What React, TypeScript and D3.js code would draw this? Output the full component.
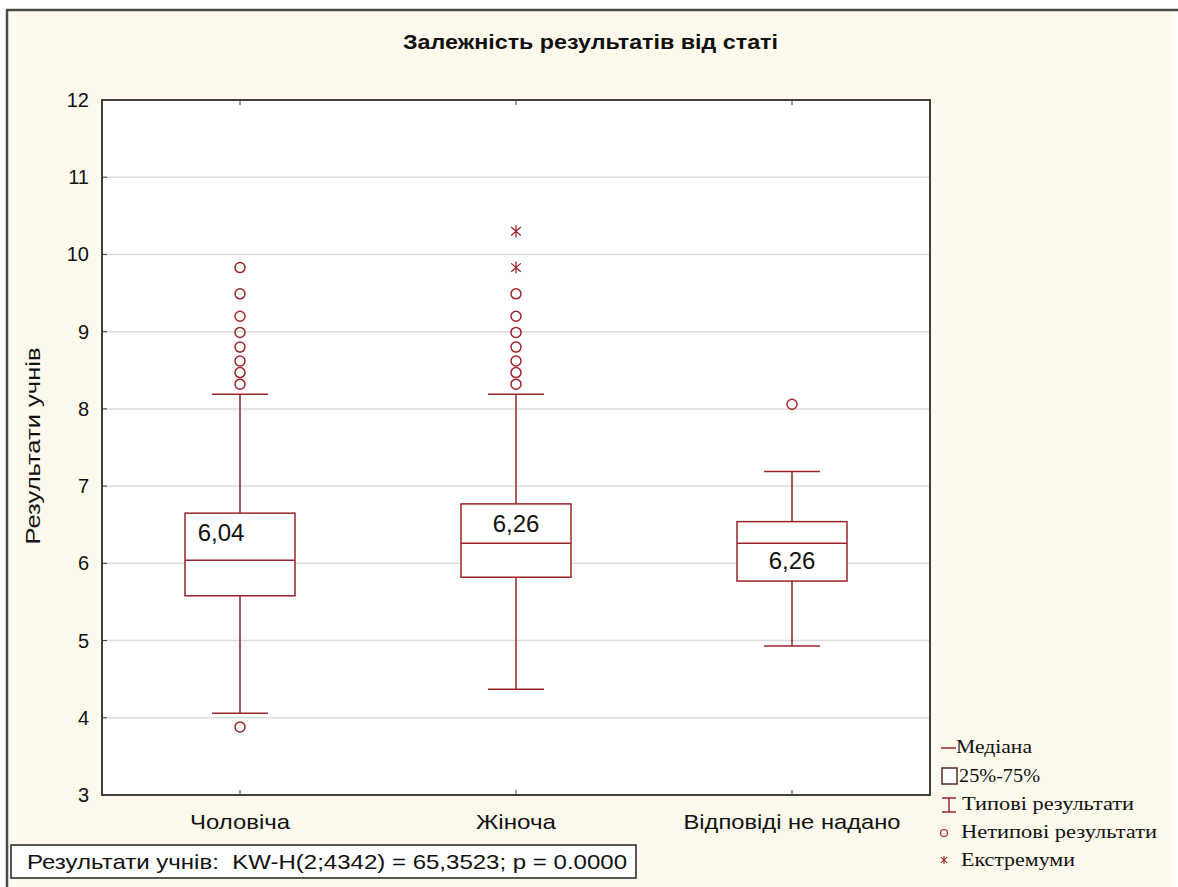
import React from "react";
import * as d3 from "d3";

const categories = ["Чоловіча", "Жіноча", "Відповіді не надано"];
const medians = [6.04, 6.26, 6.26];
const q1 = [5.58, 5.82, 5.77];
const q3 = [6.65, 6.77, 6.54];
const whiskerLow = [4.06, 4.37, 4.93];
const whiskerHigh = [8.19, 8.19, 7.19];
const outliersMale = [9.83, 9.49, 9.2, 8.99, 8.8, 8.62, 8.47, 8.32, 3.88];
const outliersFemale = [9.49, 9.2, 8.99, 8.8, 8.62, 8.47, 8.32];
const outliersNone = [8.06];
const extremesMale: number[] = [];
const extremesFemale = [10.3, 9.83];
const extremesNone: number[] = [];
const yTicks = [3, 4, 5, 6, 7, 8, 9, 10, 11, 12];
const medianLabels = ["6,04", "6,26", "6,26"];

const outliers = [outliersMale, outliersFemale, outliersNone];
const extremes = [extremesMale, extremesFemale, extremesNone];

const legendItems = ["Медіана", "25%-75%", "Типові результати", "Нетипові результати", "Екстремуми"];

const RED = "#9b252b";
const SANS = "'Liberation Sans', Arial, sans-serif";
const SERIF = "'Liberation Serif', 'Times New Roman', serif";

// label placement styles: dx offset from band center, position relative to median
const labelStyle = [
  { dx: -19, dy: -19 },
  { dx: 0, dy: -11 },
  { dx: 0, dy: 26 },
];
const catLabelWidths = [100, 80, 217];
const legendWidths = [76, 81, 172, 196, 114];

export default function App() {
  const W = 1178;
  const H = 887;
  const left = 102;
  const right = 930;
  const top = 100;
  const bottom = 795;

  const y = d3.scaleLinear().domain([3, 12]).range([bottom, top]);
  const x = d3.scaleBand<string>().domain(categories).range([left, right]);
  const boxW = 110;
  const capW = 56;

  const asterisk = (cx: number, cy: number, r: number) =>
    `M${cx},${cy - r}L${cx},${cy + r}M${cx - r * 0.8},${cy - r * 0.7}L${cx + r * 0.8},${cy + r * 0.7}M${cx - r * 0.8},${cy + r * 0.7}L${cx + r * 0.8},${cy - r * 0.7}`;

  return (
    <svg
      width={W}
      height={H}
      style={{ position: "absolute", left: 0, top: 0, display: "block" }}
    >
      <rect x={0} y={0} width={W} height={H} fill="#ffffff" />
      <rect x={7} y={10} width={1165} height={H - 10} fill="#fef9ed" />
      <line x1={7} x2={W} y1={10} y2={10} stroke="#4a4a4a" strokeWidth={2.5} />
      <line x1={7} x2={7} y1={9} y2={H} stroke="#4a4a4a" strokeWidth={2.5} />

      <text
        x={590.5}
        y={49}
        textAnchor="middle"
        fontFamily={SANS}
        fontWeight="bold"
        fontSize={21}
        fill="#111"
        textLength={375}
        lengthAdjust="spacingAndGlyphs"
      >
        Залежність результатів від статі
      </text>

      {/* plot area */}
      <rect x={left} y={top} width={right - left} height={bottom - top} fill="#ffffff" />
      {yTicks.slice(1, -1).map((t) => (
        <line key={"g" + t} x1={left} x2={right} y1={y(t)} y2={y(t)} stroke="#dcdcdc" strokeWidth={1.5} />
      ))}
      {yTicks.map((t) => (
        <g key={"t" + t}>
          <line x1={left} x2={left + 5} y1={y(t)} y2={y(t)} stroke="#404040" strokeWidth={1} />
          <text x={89} y={y(t) + 7} textAnchor="end" fontFamily={SANS} fontSize={20} fill="#111">
            {t}
          </text>
        </g>
      ))}
      {categories.map((c, i) => {
        const cx = x(c)! + x.bandwidth() / 2;
        return (
          <g key={"xt" + c}>
            <line x1={cx} x2={cx} y1={top} y2={top + 5} stroke="#404040" strokeWidth={1} />
            <line x1={cx} x2={cx} y1={bottom} y2={bottom - 5} stroke="#404040" strokeWidth={1} />
            <text
              x={cx}
              y={829}
              textAnchor="middle"
              fontFamily={SANS}
              fontSize={21}
              fill="#111"
              textLength={catLabelWidths[i]}
              lengthAdjust="spacingAndGlyphs"
            >
              {c}
            </text>
          </g>
        );
      })}

      <text
        transform={`translate(40,${446}) rotate(-90)`}
        textAnchor="middle"
        fontFamily={SANS}
        fontSize={21}
        fill="#111"
        textLength={197}
        lengthAdjust="spacingAndGlyphs"
      >
        Результати учнів
      </text>

      {/* boxes */}
      {categories.map((c, i) => {
        const cx = x(c)! + x.bandwidth() / 2;
        const ls = labelStyle[i];
        return (
          <g key={"b" + c}>
            <line x1={cx} x2={cx} y1={y(whiskerHigh[i])} y2={y(q3[i])} stroke={RED} strokeWidth={1.5} />
            <line x1={cx} x2={cx} y1={y(q1[i])} y2={y(whiskerLow[i])} stroke={RED} strokeWidth={1.5} />
            <line x1={cx - capW / 2} x2={cx + capW / 2} y1={y(whiskerHigh[i])} y2={y(whiskerHigh[i])} stroke={RED} strokeWidth={1.5} />
            <line x1={cx - capW / 2} x2={cx + capW / 2} y1={y(whiskerLow[i])} y2={y(whiskerLow[i])} stroke={RED} strokeWidth={1.5} />
            <rect
              x={cx - boxW / 2}
              y={y(q3[i])}
              width={boxW}
              height={y(q1[i]) - y(q3[i])}
              fill="#ffffff"
              stroke={RED}
              strokeWidth={1.5}
            />
            <line x1={cx - boxW / 2} x2={cx + boxW / 2} y1={y(medians[i])} y2={y(medians[i])} stroke={RED} strokeWidth={1.5} />
            <text
              x={cx + ls.dx}
              y={y(medians[i]) + ls.dy}
              textAnchor="middle"
              fontFamily={SANS}
              fontSize={24}
              fill="#111"
            >
              {medianLabels[i]}
            </text>
            {outliers[i].map((v, k) => (
              <circle key={"o" + k} cx={cx} cy={y(v)} r={5} fill="none" stroke={RED} strokeWidth={1.5} />
            ))}
            {extremes[i].map((v, k) => (
              <path key={"e" + k} d={asterisk(cx, y(v), 6)} fill="none" stroke={RED} strokeWidth={1.3} />
            ))}
          </g>
        );
      })}

      <rect x={left} y={top} width={right - left} height={bottom - top} fill="none" stroke="#404040" strokeWidth={2} />

      {/* legend */}
      <g fontFamily={SERIF} fontSize={18} fill="#111">
        <line x1={941} x2={956} y1={748} y2={748} stroke={RED} strokeWidth={1.5} />
        <text x={956} y={753} textLength={legendWidths[0]} lengthAdjust="spacingAndGlyphs">{legendItems[0]}</text>

        <rect x={942} y={768} width={15} height={16} fill="#ffffff" stroke="#5a2a2a" strokeWidth={1.5} />
        <text x={959} y={782} textLength={legendWidths[1]} lengthAdjust="spacingAndGlyphs">{legendItems[1]}</text>

        <line x1={949} x2={949} y1={798} y2={812} stroke={RED} strokeWidth={1.5} />
        <line x1={942} x2={956} y1={798} y2={798} stroke={RED} strokeWidth={1.5} />
        <line x1={942} x2={956} y1={812} y2={812} stroke={RED} strokeWidth={1.5} />
        <text x={962} y={810} textLength={legendWidths[2]} lengthAdjust="spacingAndGlyphs">{legendItems[2]}</text>

        <circle cx={944} cy={833} r={3.5} fill="none" stroke={RED} strokeWidth={1.2} />
        <text x={961} y={838} textLength={legendWidths[3]} lengthAdjust="spacingAndGlyphs">{legendItems[3]}</text>

        <path d={asterisk(944, 860, 4)} fill="none" stroke={RED} strokeWidth={1.1} />
        <text x={961} y={866} textLength={legendWidths[4]} lengthAdjust="spacingAndGlyphs">{legendItems[4]}</text>
      </g>

      {/* stats box */}
      <rect x={11} y={845} width={625} height={33} fill="#ffffff" stroke="#222" strokeWidth={1.5} />
      <text
        x={27}
        y={869}
        fontFamily={SANS}
        fontSize={21}
        fill="#111"
        xmlSpace="preserve"
        textLength={600}
        lengthAdjust="spacingAndGlyphs"
      >
        {"Результати учнів:  KW-H(2;4342) = 65,3523; p = 0.0000"}
      </text>
    </svg>
  );
}
